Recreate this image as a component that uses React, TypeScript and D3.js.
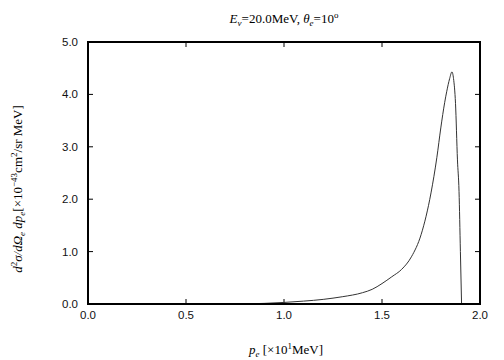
import * as d3 from "d3";
import { useRef, useEffect } from "react";

// electron momentum p_e [x10 MeV]
const momentum = [
  0.78, 0.9, 1.0, 1.1, 1.2, 1.25, 1.3, 1.4, 1.45, 1.5, 1.55, 1.6, 1.65, 1.7,
  1.75, 1.78, 1.8, 1.82, 1.83, 1.845, 1.857, 1.865, 1.875, 1.885, 1.893, 1.9,
  1.906,
];
// cross section [x10^-43 cm^2/sr MeV]
const crossSection = [
  0.0, 0.012, 0.03, 0.055, 0.088, 0.112, 0.14, 0.215, 0.28, 0.39, 0.52, 0.66,
  0.9, 1.33, 2.12, 2.8, 3.36, 3.85, 4.05, 4.3, 4.43, 4.3, 3.83, 2.75, 2.15,
  1.0, 0.0,
];

const xTicks = [0, 0.5, 1.0, 1.5, 2.0];
const yTicks = [0, 1, 2, 3, 4, 5];

const W = 504;
const H = 360;
const margin = { top: 42, right: 24, bottom: 56, left: 88 };

export default function App() {
  const ref = useRef<SVGSVGElement>(null);

  useEffect(() => {
    if (!ref.current) return;
    const svg = d3.select(ref.current);
    svg.selectAll("*").remove();

    const width = W - margin.left - margin.right;
    const height = H - margin.top - margin.bottom;

    const x = d3.scaleLinear().domain([0, 2]).range([margin.left, margin.left + width]);
    const y = d3.scaleLinear().domain([0, 5]).range([margin.top + height, margin.top]);

    const tickLen = 5;
    const g = svg.append("g");

    // ticks on all four sides, pointing inward
    xTicks.forEach((t) => {
      g.append("line")
        .attr("x1", x(t)).attr("x2", x(t))
        .attr("y1", y(0)).attr("y2", y(0) - tickLen)
        .attr("stroke", "#000").attr("stroke-width", 1);
      g.append("line")
        .attr("x1", x(t)).attr("x2", x(t))
        .attr("y1", y(5)).attr("y2", y(5) + tickLen)
        .attr("stroke", "#000").attr("stroke-width", 1);
      g.append("text")
        .attr("x", x(t)).attr("y", y(0) + 15)
        .attr("text-anchor", "middle")
        .attr("font-family", "Liberation Sans, Arial, sans-serif")
        .attr("font-size", 11.5)
        .attr("fill", "#111")
        .text(t.toFixed(1));
    });

    yTicks.forEach((t) => {
      g.append("line")
        .attr("x1", x(0)).attr("x2", x(0) + tickLen)
        .attr("y1", y(t)).attr("y2", y(t))
        .attr("stroke", "#000").attr("stroke-width", 1);
      g.append("line")
        .attr("x1", x(2)).attr("x2", x(2) - tickLen)
        .attr("y1", y(t)).attr("y2", y(t))
        .attr("stroke", "#000").attr("stroke-width", 1);
      g.append("text")
        .attr("x", x(0) - 10).attr("y", y(t) + 4)
        .attr("text-anchor", "end")
        .attr("font-family", "Liberation Sans, Arial, sans-serif")
        .attr("font-size", 11.5)
        .attr("fill", "#111")
        .text(t.toFixed(1));
    });

    // curve
    const pts = momentum.map((m, i) => [m, crossSection[i]] as [number, number]);
    const line = d3
      .line<[number, number]>()
      .x((d) => x(d[0]))
      .y((d) => y(d[1]))
      .curve(d3.curveMonotoneX);

    g.append("path")
      .datum(pts)
      .attr("fill", "none")
      .attr("stroke", "#333")
      .attr("stroke-width", 1)
      .attr("d", line);

    // frame
    g.append("rect")
      .attr("x", x(0)).attr("y", y(5))
      .attr("width", x(2) - x(0)).attr("height", y(0) - y(5))
      .attr("fill", "none")
      .attr("stroke", "#000")
      .attr("stroke-width", 2);

    const serif = "Liberation Serif, Times New Roman, serif";

    // title
    const title = g.append("text")
      .attr("x", 284).attr("y", 23)
      .attr("text-anchor", "middle")
      .attr("font-family", serif)
      .attr("font-size", 13);
    title.append("tspan").attr("font-style", "italic").text("E");
    title.append("tspan").attr("font-style", "italic").attr("font-size", 9).attr("dy", 3).text("ν");
    title.append("tspan").attr("dy", -3).text("=20.0MeV,  ");
    title.append("tspan").attr("font-style", "italic").text("θ");
    title.append("tspan").attr("font-style", "italic").attr("font-size", 9).attr("dy", 3).text("e");
    title.append("tspan").attr("dy", -3).text("=10");
    title.append("tspan").attr("font-size", 9).attr("dy", -5).text("o");

    // x label
    const xl = g.append("text")
      .attr("x", 286).attr("y", 354)
      .attr("text-anchor", "middle")
      .attr("font-family", serif)
      .attr("font-size", 13);
    xl.append("tspan").attr("font-style", "italic").text("p");
    xl.append("tspan").attr("font-style", "italic").attr("font-size", 9).attr("dy", 3).text("e");
    xl.append("tspan").attr("dy", -3).text(" [×10");
    xl.append("tspan").attr("font-size", 9).attr("dy", -5).text("1");
    xl.append("tspan").attr("dy", 5).text("MeV]");

    // y label
    const yl = g.append("text")
      .attr("transform", "translate(22,189) rotate(-90)")
      .attr("text-anchor", "middle")
      .attr("font-family", serif)
      .attr("font-size", 13);
    yl.append("tspan").attr("font-style", "italic").text("d");
    yl.append("tspan").attr("font-size", 9).attr("dy", -5).text("2");
    yl.append("tspan").attr("font-style", "italic").attr("dy", 5).text("σ/dΩ");
    yl.append("tspan").attr("font-style", "italic").attr("font-size", 9).attr("dy", 3).text("e");
    yl.append("tspan").attr("font-style", "italic").attr("dy", -3).text(" dp");
    yl.append("tspan").attr("font-style", "italic").attr("font-size", 9).attr("dy", 3).text("e");
    yl.append("tspan").attr("dy", -3).text("[×10");
    yl.append("tspan").attr("font-size", 9).attr("dy", -5).text("−43");
    yl.append("tspan").attr("dy", 5).text("cm");
    yl.append("tspan").attr("font-size", 9).attr("dy", -5).text("2");
    yl.append("tspan").attr("dy", 5).text("/sr MeV]");
  }, []);

  return (
    <svg
      ref={ref}
      width={W}
      height={H}
      style={{ position: "absolute", left: 0, top: 0, background: "#fff" }}
    />
  );
}
